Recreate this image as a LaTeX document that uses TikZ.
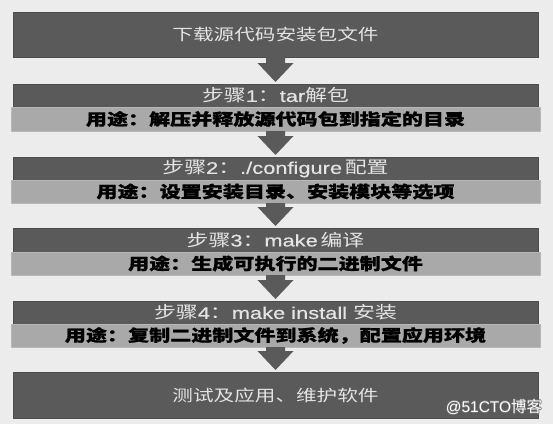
\documentclass[tikz,border=0pt]{standalone}
\usepackage{fontspec}
\usetikzlibrary{calc}
\newfontfamily\cjk[FakeStretch=1.3, BoldFeatures={FakeBold=0.8}]{Noto Sans CJK SC}
\newfontfamily\latf[FakeStretch=1.3, FakeBold=0.5]{Liberation Sans}
\newfontfamily\wcjk{Noto Sans CJK SC}
\newfontfamily\wlatf{Liberation Sans}
\definecolor{bgc}{HTML}{ECECEC}
\definecolor{darkc}{HTML}{5A5A5A}
\definecolor{darkedge}{HTML}{4C4C4C}
\definecolor{lightc}{HTML}{A9A9A9}
\definecolor{lightedge}{HTML}{B8B8B8}
\definecolor{txtl}{HTML}{E4E4E4}
\definecolor{arrowc}{HTML}{5A5A5A}
\definecolor{wmo}{HTML}{6E6E6E}
\newcommand\wmtext{{\wlatf @51CTO}{\wcjk 博客}}
\newcommand\outlinedwm{%
  \rlap{\kern0.7pt\textcolor{wmo}{\wmtext}}%
  \rlap{\kern-0.7pt\textcolor{wmo}{\wmtext}}%
  \rlap{\raisebox{0.7pt}{\textcolor{wmo}{\wmtext}}}%
  \rlap{\raisebox{-0.7pt}{\textcolor{wmo}{\wmtext}}}%
  \textcolor{white}{\wmtext}}
\newcommand\flowarrow[2]{%
  \fill[arrowc] let \p1=(#1.south), \p2=(#2.north) in
   (\x1-9.5pt,\y1) -- (\x1-9.5pt,\y2+21pt) -- (\x1-18pt,\y2+21pt) --
   (\x1,\y2+2pt) -- (\x1+18pt,\y2+21pt) -- (\x1+9.5pt,\y2+21pt) --
   (\x1+9.5pt,\y1) -- cycle;}
\begin{document}
\begin{tikzpicture}[x=1pt,y=-1pt,
  topbox/.style={fill=darkc, draw=darkedge, line width=0.8pt, minimum width=525pt,
    minimum height=45pt, inner sep=0pt, outer sep=0pt, text=txtl,
    font=\cjk\fontsize{15.85}{18}\selectfont},
  stepbox/.style={fill=darkc, draw=darkedge, line width=0.6pt, minimum width=525pt,
    inner sep=0pt, outer sep=0pt, text=txtl,
    font=\cjk\fontsize{16.8}{18}\selectfont},
  useband/.style={fill=lightc, draw=lightedge, line width=0.6pt, minimum width=529pt,
    inner sep=0pt, outer sep=0pt, text=black,
    font=\cjk\bfseries\fontsize{16.2}{18}\selectfont},
  wmstyle/.style={inner sep=0pt, font=\fontsize{15.5}{17}\selectfont}]
\path[use as bounding box, fill=bgc] (0,0) rectangle (553,424);

\node[topbox] (top) at (275.5,34.5) {下载源代码安装包文件};

\node[stepbox, minimum height=23pt] (s1) at (275.5,95.5) {步骤{\latf 1}：{\latf tar}解包};
\node[useband, minimum height=24pt] (u1) at (275.5,119) {用途：解压并释放源代码包到指定的目录};

\node[stepbox, minimum height=23pt] (s2) at (275.5,168.5) {步骤{\latf 2}：{\latf ./configure}\,配置};
\node[useband, minimum height=23pt] (u2) at (275.5,191.5) {用途：设置安装目录、安装模块等选项};

\node[stepbox, minimum height=24pt] (s3) at (275.5,240) {步骤{\latf 3}：{\latf make}\,编译};
\node[useband, minimum height=23pt] (u3) at (275.5,263.5) {用途：生成可执行的二进制文件};

\node[stepbox, minimum height=23pt] (s4) at (275.5,312.5) {步骤{\latf 4}：{\latf make install }安装};
\node[useband, minimum height=23pt] (u4) at (275.5,335.5) {用途：复制二进制文件到系统，配置应用环境};

\node[topbox, minimum height=46pt] (bot) at (275.5,395) {测试及应用、维护软件};

\flowarrow{top}{s1}
\flowarrow{u1}{s2}
\flowarrow{u2}{s3}
\flowarrow{u3}{s4}
\flowarrow{u4}{bot}

\node[wmstyle] (wm) at (494,407) {\outlinedwm};
\end{tikzpicture}
\end{document}
